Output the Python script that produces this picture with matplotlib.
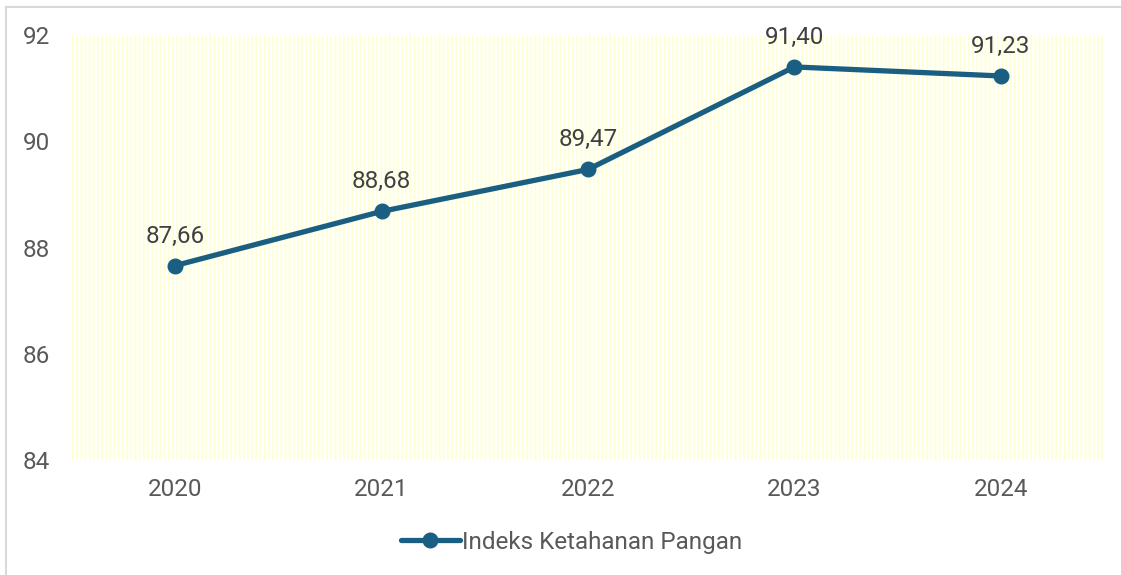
import matplotlib.pyplot as plt
from matplotlib.patches import Rectangle
from matplotlib.lines import Line2D

plt.rcParams['font.family'] = ['Roboto', 'DejaVu Sans']
plt.rcParams['hatch.linewidth'] = 1.4

years = ['2020', '2021', '2022', '2023', '2024']
values = [87.66, 88.68, 89.47, 91.40, 91.23]
yticks = [84, 86, 88, 90, 92]
series_name = 'Indeks Ketahanan Pangan'

line_color = '#1A5F82'
text_color = '#595959'

fig = plt.figure(figsize=(11.21, 5.75), dpi=100)
ax = fig.add_axes([0.0642, 0.2, 0.9206, 0.739])

# striped yellow plot background
ax.patch.set_visible(False)
bg = Rectangle((0, 0), 1, 1, transform=ax.transAxes, facecolor='none',
               edgecolor='#FFFFD6', hatch='||||', linewidth=0, zorder=0)
ax.add_patch(bg)

x = list(range(len(years)))
ax.plot(x, values, color=line_color, linewidth=3.8, marker='o', markersize=10.5,
        solid_capstyle='round', label=series_name, zorder=3)

for xi, v in zip(x, values):
    ax.annotate(f'{v:.2f}'.replace('.', ','), (xi, v), xytext=(0, 13),
                textcoords='offset points', ha='center', va='bottom',
                fontsize=17.5, color='#404040')

ax.set_xlim(-0.5, 4.5)
ax.set_ylim(84, 92)
ax.set_xticks(x)
ax.set_xticklabels(years)
ax.set_yticks(yticks)
ax.tick_params(axis='both', length=0, labelsize=17.5, colors=text_color)
ax.tick_params(axis='x', pad=13)
ax.tick_params(axis='y', pad=16)
for s in ax.spines.values():
    s.set_visible(False)

leg = fig.legend(loc='center', bbox_to_anchor=(0.51, 0.057), frameon=False,
                 fontsize=17.5, handlelength=2.4, handletextpad=0.1)
for t in leg.get_texts():
    t.set_color(text_color)

# outer frame (left and top edges visible)
fig.add_artist(Line2D([6 / 1121, 6 / 1121], [0, 1 - 7 / 575], color='#D9D9D9', linewidth=1.5))
fig.add_artist(Line2D([6 / 1121, 1], [1 - 7 / 575, 1 - 7 / 575], color='#D9D9D9', linewidth=1.5))

fig.savefig('out.png', dpi=100)
